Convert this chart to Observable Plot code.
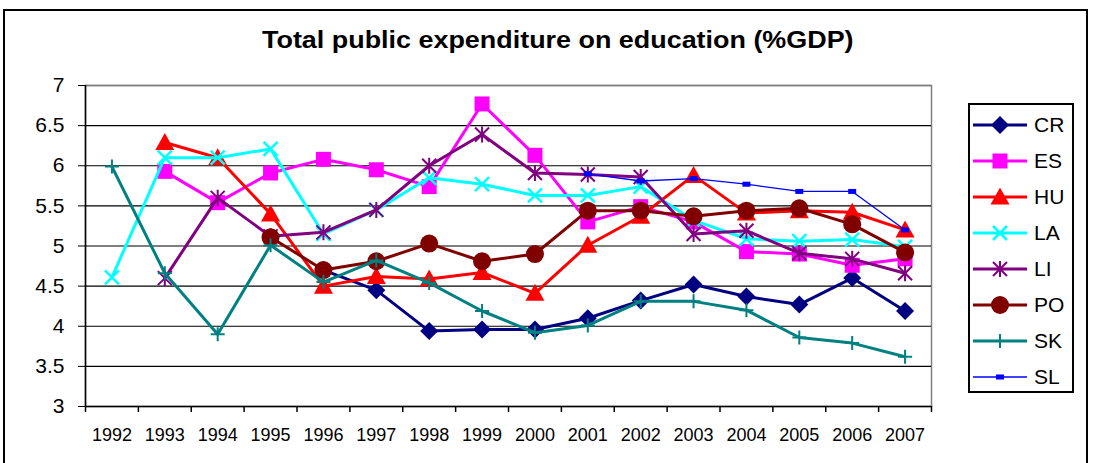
<!DOCTYPE html>
<html>
<head>
<meta charset="utf-8">
<script src="https://cdn.jsdelivr.net/npm/d3@7"></script>
<script src="https://cdn.jsdelivr.net/npm/@observablehq/plot@0.6"></script>
<style>
  html, body { margin: 0; padding: 0; background: #fff; }
  #wrap { position: relative; width: 1093px; height: 463px; overflow: hidden; font-family: "Liberation Sans", Arial, sans-serif; }
  #border { position: absolute; left: 3px; top: 9px; width: 1085px; height: 470px; border: 2px solid #000; box-sizing: border-box; }
  #title { position: absolute; left: 0; top: 27px; width: 1116px; text-align: center; }
  #title span { display: inline-block; font-weight: bold; font-size: 23px; color: #000; transform: scaleX(1.17); transform-origin: center; white-space: nowrap; }
  #chart { position: absolute; left: 0; top: 0; }
  #legend { position: absolute; left: 968px; top: 103px; width: 106px; height: 290px; border: 2px solid #000; box-sizing: border-box; background: #fff; }
  .item { position: absolute; left: 0; height: 30px; display: flex; align-items: center; }
  .item span { font-size: 21px; color: #000; margin-left: 4px; }
</style>
</head>
<body>
<div id="wrap">
  <div id="border"></div>
  <div id="title"><span>Total public expenditure on education (%GDP)</span></div>
  <div id="chart"></div>
  <div id="legend"></div>
</div>
<script>
const years = [1992,1993,1994,1995,1996,1997,1998,1999,2000,2001,2002,2003,2004,2005,2006,2007];
const yTicks = [3,3.5,4,4.5,5,5.5,6,6.5,7];
const seriesNames = ["CR","ES","HU","LA","LI","PO","SK","SL"];
const seriesColors = ["#000080","#FF00FF","#FF0000","#00FFFF","#800080","#800000","#008080","#0000FF"];

const CR = [null,null,null,null,4.70,4.45,3.94,3.96,3.96,4.10,4.32,4.52,4.37,4.27,4.60,4.19];
const ES = [null,5.93,5.54,5.91,6.08,5.95,5.74,6.77,6.13,5.30,5.49,5.30,4.93,4.90,4.76,4.84];
const HU = [null,6.29,6.10,5.40,4.50,4.62,4.59,4.67,4.41,5.01,5.37,5.88,5.41,5.44,5.42,5.20];
const LA = [4.61,6.10,6.10,6.21,5.15,5.45,5.85,5.77,5.63,5.63,5.74,5.32,5.09,5.06,5.08,4.99];
const LI = [null,4.60,5.60,5.12,5.17,5.45,6.00,6.39,5.91,5.89,5.86,5.15,5.19,4.91,4.84,4.66];
const PO = [null,null,null,5.11,4.70,4.81,5.03,4.81,4.90,5.44,5.44,5.37,5.44,5.47,5.27,4.92];
const SK = [5.99,4.66,3.90,5.01,4.55,4.82,4.54,4.19,3.92,4.01,4.31,4.31,4.20,3.86,3.79,3.62];
const SL = [null,null,null,null,null,null,null,null,null,5.90,5.81,5.84,5.77,5.68,5.68,5.20];

const seriesValues = [CR, ES, HU, LA, LI, PO, SK, SL];

// marker shapes (pixel sizes)
const sym = {
  CR: {draw(c){ const h = 9; c.moveTo(0,-h); c.lineTo(h,0); c.lineTo(0,h); c.lineTo(-h,0); c.closePath(); }},
  ES: {draw(c){ const h = 7.5; c.rect(-h,-h,2*h,2*h); }},
  HU: {draw(c){ c.moveTo(0,-9.5); c.lineTo(9.5,7.5); c.lineTo(-9.5,7.5); c.closePath(); }},
  LA: {draw(c){ const h = 7; c.moveTo(-h,-h); c.lineTo(h,h); c.moveTo(h,-h); c.lineTo(-h,h); }},
  LI: {draw(c){ const h = 7; c.moveTo(-h,-h); c.lineTo(h,h); c.moveTo(h,-h); c.lineTo(-h,h); c.moveTo(0,-h-1); c.lineTo(0,h+1); }},
  PO: {draw(c){ c.moveTo(9,0); c.arc(0,0,9,0,2*Math.PI); }},
  SK: {draw(c){ const h = 7; c.moveTo(-h,0); c.lineTo(h,0); c.moveTo(0,-h); c.lineTo(0,h); }},
  SL: {draw(c){ c.rect(-4,-2.5,8,5); }}
};
const filled = {CR:true, ES:true, HU:true, LA:false, LI:false, PO:true, SK:false, SL:true};
const lineW = {CR:3, ES:3, HU:3, LA:3, LI:3, PO:3, SK:3, SL:1.3};
const markW = {LA:2.5, LI:2, SK:2};

const boundaries = years.map(y => y - 0.5).concat([years[years.length-1] + 0.5]);
const xDomain = [boundaries[0], boundaries[boundaries.length-1]];

const marks = [
  Plot.frame({stroke: "#808080", strokeWidth: 1.5}),
  Plot.gridY(yTicks, {stroke: "#000", strokeOpacity: 1, strokeWidth: 1.2}),
  Plot.ruleY([7], {stroke: "#808080", strokeWidth: 1.5}),
  Plot.axisY({ticks: yTicks, label: null, tickSize: 7, tickPadding: 14, fontSize: 21, tickFormat: d => String(d), stroke: "#000"}),
  Plot.axisX({ticks: years, label: null, tickSize: 0, tickPadding: 22, fontSize: 18, tickFormat: d => String(d)}),
  Plot.axisX({ticks: boundaries, label: null, tickSize: 6, tickFormat: () => "", stroke: "#000", strokeWidth: 1.5}),
  Plot.ruleX([xDomain[0]], {stroke: "#000", strokeWidth: 1.5}),
  Plot.ruleY([yTicks[0]], {stroke: "#000", strokeWidth: 1.5})
];

seriesNames.forEach((name, i) => {
  const rows = years.map((yr, j) => ({year: yr, value: seriesValues[i][j]}));
  const color = seriesColors[i];
  marks.push(Plot.line(rows, {x: "year", y: "value", stroke: color, strokeWidth: lineW[name], strokeLinejoin: "round"}));
  const pts = rows.filter(d => d.value != null);
  if (filled[name]) {
    marks.push(Plot.dot(pts, {x: "year", y: "value", symbol: sym[name], fill: color, stroke: "none"}));
  } else {
    marks.push(Plot.dot(pts, {x: "year", y: "value", symbol: sym[name], fill: "none", stroke: color, strokeWidth: markW[name]}));
  }
});

const chart = Plot.plot({
  width: 960,
  height: 463,
  marginLeft: 85,
  marginRight: 29,
  marginTop: 85,
  marginBottom: 57,
  x: {domain: xDomain, label: null},
  y: {domain: [yTicks[0], yTicks[yTicks.length-1]], label: null},
  style: {fontFamily: "'Liberation Sans', Arial, sans-serif", color: "#000", background: "transparent", overflow: "visible"},
  marks
});
document.getElementById("chart").appendChild(chart);

// legend
const legend = document.getElementById("legend");
seriesNames.forEach((name, i) => {
  const color = seriesColors[i];
  const item = document.createElement("div");
  item.className = "item";
  item.style.top = (5 + i * 36) + "px";
  const p = d3.path();
  sym[name].draw(p);
  const svg = d3.create("svg").attr("width", 60).attr("height", 30).attr("viewBox", "-30 -15 60 30");
  svg.append("line").attr("x1", -27).attr("x2", 27).attr("y1", 0).attr("y2", 0).attr("stroke", color).attr("stroke-width", lineW[name]);
  svg.append("path").attr("d", p.toString())
    .attr("fill", filled[name] ? color : "none")
    .attr("stroke", filled[name] ? "none" : color)
    .attr("stroke-width", markW[name] || 0);
  item.appendChild(svg.node());
  const t = document.createElement("span");
  t.textContent = name;
  item.appendChild(t);
  legend.appendChild(item);
});
</script>
</body>
</html>
